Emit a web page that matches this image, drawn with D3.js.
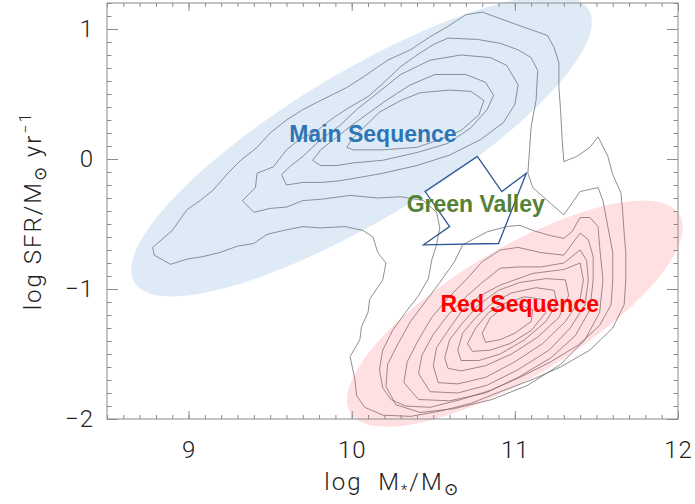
<!DOCTYPE html>
<html>
<head>
<meta charset="utf-8">
<script src="https://cdn.jsdelivr.net/npm/d3@7"></script>
<style>
  body { margin: 0; background: #fff; }
  svg text { font-family: Roboto, "Liberation Sans", sans-serif; }
</style>
</head>
<body>
<svg id="chart" width="695" height="504"></svg>
<script>
// Axis ticks
const xTicks = [9, 10, 11, 12];
const yTicks = [-2, -1, 0, 1];

// Density contours in the (log M*, log SFR) plane, outermost first.
// Each contour is a closed ring of [log M*, log SFR] points.
const contourOuter = [
  [8.78,-0.68],[8.90,-0.55],[8.99,-0.39],[9.07,-0.32],[9.15,-0.24],[9.24,-0.11],[9.32,-0.01],
  [9.42,0.09],[9.50,0.20],[9.60,0.30],[9.70,0.38],[9.81,0.45],[9.97,0.55],[10.07,0.63],
  [10.22,0.76],[10.36,0.84],[10.48,0.94],[10.59,1.02],[10.70,1.11],[10.80,1.13],[10.91,1.08],
  [11.02,1.03],[11.11,0.99],[11.20,0.95],[11.24,0.86],[11.27,0.74],[11.27,0.55],[11.28,0.38],
  [11.29,0.15],[11.30,-0.02],[11.38,0.02],[11.46,0.09],[11.51,0.17],[11.57,0.02],[11.60,-0.12],
  [11.65,-0.26],[11.66,-0.39],[11.67,-0.57],[11.68,-0.72],[11.68,-0.93],[11.67,-1.12],
  [11.60,-1.30],[11.46,-1.47],[11.28,-1.60],[11.10,-1.70],[10.91,-1.79],[10.73,-1.88],
  [10.54,-1.94],[10.36,-1.98],[10.19,-1.97],[10.08,-1.91],[10.03,-1.82],[10.02,-1.70],
  [9.99,-1.52],[10.05,-1.39],[10.06,-1.29],[10.10,-1.18],[10.11,-1.08],[10.19,-0.93],
  [10.21,-0.80],[10.16,-0.72],[10.13,-0.60],[10.07,-0.55],[9.96,-0.52],[9.81,-0.53],
  [9.70,-0.52],[9.58,-0.55],[9.48,-0.58],[9.40,-0.65],[9.30,-0.67],[9.19,-0.72],[9.09,-0.75],
  [8.99,-0.77],[8.89,-0.81],[8.79,-0.74]
];
const contourSecond = [
  [9.33,-0.32],[9.41,-0.22],[9.42,-0.11],[9.52,-0.06],[9.60,0.07],[9.68,0.15],[9.79,0.22],
  [9.89,0.32],[9.99,0.40],[10.10,0.48],[10.19,0.58],[10.30,0.71],[10.40,0.80],[10.50,0.88],
  [10.59,0.93],[10.77,0.92],[10.91,0.89],[11.02,0.84],[11.10,0.78],[11.14,0.68],[11.13,0.45],
  [11.10,0.25],[11.09,0.07],[11.08,-0.11],[11.11,-0.22],[11.20,-0.32],[11.30,-0.43],
  [11.35,-0.34],[11.40,-0.25],[11.51,-0.22],[11.54,-0.32],[11.57,-0.52],[11.60,-0.72],
  [11.60,-0.93],[11.59,-1.12],[11.52,-1.28],[11.39,-1.43],[11.22,-1.56],[11.03,-1.68],
  [10.85,-1.78],[10.67,-1.85],[10.48,-1.91],[10.33,-1.90],[10.24,-1.85],[10.19,-1.76],
  [10.17,-1.62],[10.19,-1.47],[10.25,-1.32],[10.33,-1.18],[10.41,-1.05],[10.47,-0.92],
  [10.49,-0.78],[10.52,-0.66],[10.54,-0.53],[10.52,-0.41],[10.44,-0.32],[10.30,-0.29],
  [10.16,-0.30],[9.99,-0.28],[9.81,-0.31],[9.70,-0.32],[9.60,-0.37],[9.50,-0.38],[9.40,-0.41]
];
// Star-forming peak
const contourMS1 = [
  [9.57,-0.12],[9.60,-0.20],[9.70,-0.18],[9.81,-0.18],[9.91,-0.17],[10.01,-0.15],[10.19,-0.11],
  [10.40,-0.05],[10.60,0.03],[10.79,0.15],[10.93,0.28],[11.00,0.42],[11.02,0.57],[10.95,0.72],
  [10.85,0.78],[10.67,0.80],[10.48,0.76],[10.30,0.65],[10.13,0.48],[10.03,0.38],[9.93,0.26],
  [9.81,0.15],[9.70,0.02],[9.62,-0.06]
];
const contourMS2 = [
  [9.76,-0.01],[9.81,-0.05],[9.91,-0.05],[10.01,-0.03],[10.19,-0.01],[10.40,0.05],[10.59,0.12],
  [10.73,0.24],[10.83,0.38],[10.87,0.49],[10.82,0.59],[10.70,0.65],[10.51,0.65],[10.36,0.57],
  [10.21,0.45],[10.10,0.35],[9.99,0.25],[9.89,0.15],[9.81,0.07]
];
const contourMS3 = [
  [9.97,0.09],[10.01,0.07],[10.19,0.07],[10.40,0.09],[10.54,0.15],[10.67,0.22],[10.78,0.34],
  [10.81,0.45],[10.73,0.52],[10.60,0.53],[10.42,0.51],[10.30,0.45],[10.17,0.36],[10.08,0.25],
  [10.00,0.15]
];
// Quiescent peak, outermost ring first
const contourRS1 = [
  [10.21,-1.75],[10.22,-1.58],[10.28,-1.43],[10.36,-1.25],[10.45,-1.10],[10.54,-0.95],
  [10.63,-0.79],[10.68,-0.66],[10.83,-0.56],[10.95,-0.52],[11.03,-0.51],[11.11,-0.55],
  [11.22,-0.59],[11.30,-0.61],[11.35,-0.56],[11.40,-0.45],[11.46,-0.45],[11.51,-0.52],
  [11.52,-0.68],[11.54,-0.93],[11.52,-1.18],[11.43,-1.39],[11.28,-1.58],[11.08,-1.74],
  [10.86,-1.85],[10.63,-1.92],[10.42,-1.95],[10.27,-1.89]
];
const contourRS2 = [
  [10.32,-1.72],[10.34,-1.56],[10.41,-1.39],[10.49,-1.22],[10.59,-1.07],[10.70,-0.93],
  [10.80,-0.79],[10.91,-0.70],[11.02,-0.68],[11.16,-0.72],[11.30,-0.74],[11.40,-0.57],
  [11.45,-0.62],[11.48,-0.75],[11.48,-0.93],[11.46,-1.16],[11.37,-1.36],[11.22,-1.53],
  [11.02,-1.68],[10.82,-1.80],[10.60,-1.86],[10.41,-1.85]
];
const contourRS3 = [
  [10.41,-1.65],[10.43,-1.51],[10.50,-1.35],[10.59,-1.20],[10.70,-1.06],[10.80,-0.95],
  [10.91,-0.84],[11.03,-0.83],[11.16,-0.83],[11.30,-0.80],[11.40,-0.70],[11.44,-0.78],
  [11.45,-0.93],[11.43,-1.12],[11.34,-1.30],[11.21,-1.47],[11.02,-1.62],[10.83,-1.74],
  [10.65,-1.80],[10.48,-1.79]
];
const contourRS4 = [
  [10.50,-1.59],[10.52,-1.45],[10.59,-1.32],[10.68,-1.16],[10.79,-1.05],[10.91,-0.97],
  [11.11,-0.88],[11.30,-0.85],[11.40,-0.80],[11.42,-0.93],[11.40,-1.08],[11.31,-1.25],
  [11.17,-1.42],[11.00,-1.56],[10.82,-1.68],[10.65,-1.73],[10.53,-1.72]
];
const contourRS5 = [
  [10.57,-1.53],[10.60,-1.39],[10.68,-1.26],[10.78,-1.12],[10.90,-1.01],[11.03,-0.95],
  [11.19,-0.92],[11.31,-0.93],[11.33,-1.05],[11.27,-1.22],[11.14,-1.37],[10.98,-1.50],
  [10.82,-1.59],[10.67,-1.63],[10.59,-1.61]
];
const contourRS6 = [
  [10.65,-1.47],[10.68,-1.34],[10.76,-1.22],[10.86,-1.11],[10.98,-1.03],[11.13,-0.99],
  [11.24,-1.01],[11.26,-1.11],[11.19,-1.25],[11.06,-1.39],[10.91,-1.50],[10.78,-1.55],
  [10.67,-1.55]
];
const contourRS7 = [
  [10.71,-1.42],[10.76,-1.30],[10.84,-1.18],[10.94,-1.11],[11.06,-1.06],[11.17,-1.08],
  [11.19,-1.18],[11.10,-1.32],[10.97,-1.42],[10.85,-1.47],[10.74,-1.48]
];
const contourRS8 = [
  [10.80,-1.34],[10.85,-1.22],[10.91,-1.16],[11.02,-1.12],[11.11,-1.16],[11.10,-1.25],
  [11.00,-1.34],[10.91,-1.39],[10.82,-1.41]
];
const contours = [contourOuter, contourSecond, contourMS1, contourMS2, contourMS3,
  contourRS1, contourRS2, contourRS3, contourRS4, contourRS5, contourRS6, contourRS7, contourRS8];

// Green valley selection polygon
const greenValley = [
  [10.77,0.02],[10.92,-0.25],[11.07,-0.11],[10.90,-0.65],[10.44,-0.66],[10.60,-0.52],[10.45,-0.25]
];

// Population regions: name and centre in (log M*, log SFR)
const regionNames = ["Main Sequence", "Red Sequence"];
const regionCentreX = [10.06, 11.00];
const regionCentreY = [0.10, -1.19];

// Population labels: text and anchor point
const labelText = ["Main Sequence", "Green Valley", "Red Sequence"];
const labelX = [10.13, 10.76, 11.03];
const labelY = [0.13, -0.41, -1.18];

// ---------------------------------------------------------------
const svg = d3.select("#chart");
const plot = { left: 107, right: 678, top: 3, bottom: 419 };
const x = d3.scaleLinear().domain([8.5, 12]).range([plot.left, plot.right]);
const y = d3.scaleLinear().domain([-2, 1.2]).range([plot.bottom, plot.top]);

const line = d3.line().x(d => x(d[0])).y(d => y(d[1])).curve(d3.curveLinearClosed);

// contour lines
svg.append("g")
  .selectAll("path").data(contours).join("path")
  .attr("d", line)
  .attr("fill", "none")
  .attr("stroke", "#6a6a6a")
  .attr("stroke-width", 0.75);

// translucent population ellipses
const ellipseShape = [
  { rx: 265, ry: 74, angle: -31, fill: "rgb(91,155,213)", opacity: 0.2 },
  { rx: 192, ry: 64, angle: -31, fill: "rgb(250,90,100)", opacity: 0.19 }
];
svg.append("g").selectAll("ellipse").data(regionNames).join("ellipse")
  .attr("cx", 0).attr("cy", 0)
  .attr("rx", (d, i) => ellipseShape[i].rx)
  .attr("ry", (d, i) => ellipseShape[i].ry)
  .attr("transform", (d, i) =>
    `translate(${x(regionCentreX[i])},${y(regionCentreY[i])}) rotate(${ellipseShape[i].angle})`)
  .attr("fill", (d, i) => ellipseShape[i].fill)
  .attr("fill-opacity", (d, i) => ellipseShape[i].opacity);

// green valley polygon
svg.append("path")
  .datum(greenValley)
  .attr("d", line)
  .attr("fill", "none")
  .attr("stroke", "#2f5597")
  .attr("stroke-width", 1.3)
  .attr("stroke-linejoin", "miter");

// labels
const labelColor = ["#2e75b6", "#548235", "#ff0000"];
svg.append("g").selectAll("text").data(labelText).join("text")
  .attr("x", (d, i) => x(labelX[i]))
  .attr("y", (d, i) => y(labelY[i]))
  .attr("text-anchor", "middle")
  .style("font-family", "'Liberation Sans', Arial, sans-serif")
  .style("font-weight", "bold")
  .style("font-size", "23px")
  .attr("fill", (d, i) => labelColor[i])
  .text(d => d);

// axes: box with inward ticks on all four sides
const axisColor = "#8c8c8c";
const xMinor = d3.range(85, 121).map(v => v / 10);
const yMinor = d3.range(-20, 13).map(v => v / 10);

function styleAxis(g) {
  g.select(".domain").remove();
  g.selectAll(".tick line").attr("stroke", axisColor).attr("stroke-width", 1);
}
const lightText = g => g.selectAll("text").attr("fill", "#222").style("font-size", "24px")
  .style("font-family", "Roboto, sans-serif").style("font-weight", 300)
  .style("letter-spacing", "1px");

// bottom
svg.append("g").attr("transform", `translate(0,${plot.bottom})`)
  .call(d3.axisBottom(x).tickValues(xMinor).tickSize(-4).tickFormat(""))
  .call(styleAxis);
svg.append("g").attr("transform", `translate(0,${plot.bottom})`)
  .call(d3.axisBottom(x).tickValues(xTicks).tickSize(-8).tickPadding(22).tickFormat(d3.format("d")))
  .call(styleAxis).call(lightText);
// top
svg.append("g").attr("transform", `translate(0,${plot.top})`)
  .call(d3.axisTop(x).tickValues(xMinor).tickSize(-4).tickFormat(""))
  .call(styleAxis);
svg.append("g").attr("transform", `translate(0,${plot.top})`)
  .call(d3.axisTop(x).tickValues(xTicks).tickSize(-8).tickFormat(""))
  .call(styleAxis);
// left
svg.append("g").attr("transform", `translate(${plot.left},0)`)
  .call(d3.axisLeft(y).tickValues(yMinor).tickSize(-4.5).tickFormat(""))
  .call(styleAxis);
svg.append("g").attr("transform", `translate(${plot.left},0)`)
  .call(d3.axisLeft(y).tickValues(yTicks).tickSize(-11).tickPadding(13).tickFormat(d3.format("d")))
  .call(styleAxis).call(lightText);
// right
svg.append("g").attr("transform", `translate(${plot.right},0)`)
  .call(d3.axisRight(y).tickValues(yMinor).tickSize(-4.5).tickFormat(""))
  .call(styleAxis);
svg.append("g").attr("transform", `translate(${plot.right},0)`)
  .call(d3.axisRight(y).tickValues(yTicks).tickSize(-11).tickFormat(""))
  .call(styleAxis);

// frame
svg.append("rect")
  .attr("x", plot.left).attr("y", plot.top)
  .attr("width", plot.right - plot.left).attr("height", plot.bottom - plot.top)
  .attr("fill", "none").attr("stroke", axisColor).attr("stroke-width", 1);

// axis titles
const titleStyle = t => t.attr("fill", "#222").style("font-size", "24px")
  .style("font-family", "Roboto, sans-serif").style("font-weight", 300)
  .style("letter-spacing", "2px").style("white-space", "pre");

const xt = svg.append("text")
  .attr("x", 392).attr("y", 490)
  .attr("text-anchor", "middle").call(titleStyle);
xt.append("tspan").text("log  M");
xt.append("tspan").attr("dy", 5).style("font-size", "15px").text("*");
xt.append("tspan").attr("dy", -5).text("/M");
xt.append("tspan").attr("dy", 5).style("font-size", "17px").text("\u2299");

const yt = svg.append("text")
  .attr("transform", `translate(41,211) rotate(-90)`)
  .attr("text-anchor", "middle").call(titleStyle);
yt.append("tspan").text("log SFR/M");
yt.append("tspan").attr("dy", 5).style("font-size", "17px").text("\u2299");
yt.append("tspan").attr("dy", -5).text(" yr");
yt.append("tspan").attr("dy", -10).style("font-size", "16px").text("\u22121");
</script>
</body>
</html>
